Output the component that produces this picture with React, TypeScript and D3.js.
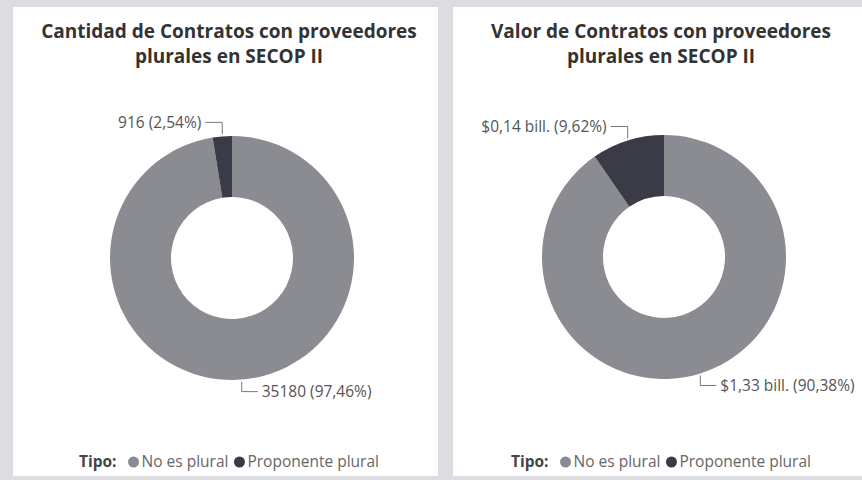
import { useEffect, useRef } from "react";
import * as d3 from "d3";

// data
const tipos = ["No es plural", "Proponente plural"];
const cantidadValues = [35180, 916];
const cantidadPct = [97.46, 2.54];
const valorBill = [1.33, 0.14];
const valorPct = [90.38, 9.62];
const titles = [
  ["Cantidad de Contratos con proveedores", "plurales en SECOP II"],
  ["Valor de Contratos con proveedores", "plurales en SECOP II"],
];

const fmtPct = (p: number) => p.toFixed(2).replace(".", ",") + "%";
const fmtBill = (v: number) => "$" + v.toFixed(2).replace(".", ",") + " bill.";

export default function App() {
  const svgRef = useRef<SVGSVGElement>(null);

  useEffect(() => {
    const W = 862, H = 480;
    const svg = d3.select(svgRef.current);
    svg.selectAll("*").remove();
    svg.attr("width", W).attr("height", H);

    const color = d3.scaleOrdinal<string, string>().domain(tipos).range(["#8b8b92", "#3b3b47"]);

    // scan frame
    svg.append("rect").attr("width", W).attr("height", H).attr("fill", "#dcdce1");

    const panels = [
      { x0: 13, x1: 438, cx: 232, cy: 258, values: cantidadPct,
        labels: cantidadValues.map((v, i) => `${v} (${fmtPct(cantidadPct[i])})`) },
      { x0: 453, x1: 870, cx: 664, cy: 257, values: valorPct,
        labels: valorBill.map((v, i) => `${fmtBill(v)} (${fmtPct(valorPct[i])})`) },
    ];

    const outerR = 122, innerR = 61;
    const pie = d3.pie<number>().sort(null).value(d => d);
    const arc = d3.arc<d3.PieArcDatum<number>>().innerRadius(innerR).outerRadius(outerR);

    panels.forEach((p, pi) => {
      const g = svg.append("g");
      g.append("rect")
        .attr("x", p.x0).attr("y", 7)
        .attr("width", p.x1 - p.x0).attr("height", 469)
        .attr("fill", "#ffffff");

      const tcx = p.cx - 3;
      titles[pi].forEach((t, li) => {
        g.append("text")
          .attr("x", tcx).attr("y", 38 + li * 25)
          .attr("text-anchor", "middle")
          .style("font-family", "'Open Sans', sans-serif")
          .style("font-weight", "700")
          .style("font-size", "19px")
          .attr("fill", "#333333")
          .text(t);
      });

      const arcs = pie(p.values);
      const donut = g.append("g").attr("transform", `translate(${p.cx},${p.cy})`);
      donut.selectAll("path")
        .data(arcs)
        .join("path")
        .attr("d", arc)
        .attr("fill", (d, i) => color(tipos[i]));

      // data labels with elbow leader lines
      arcs.forEach((a, i) => {
        const mid = (a.startAngle + a.endAngle) / 2;
        const px = p.cx + outerR * Math.sin(mid);
        const py = p.cy - outerR * Math.cos(mid);
        const top = Math.cos(mid) > 0;
        const ly = top ? py - 14 : py + 12;
        const hx = top ? px - 17 : px + 16;
        g.append("path")
          .attr("d", `M${px},${py + (top ? -2 : 2)}V${ly}H${hx}`)
          .attr("fill", "none")
          .attr("stroke", "#777")
          .attr("stroke-width", 1);
        g.append("text")
          .attr("x", top ? hx - 4 : hx + 4)
          .attr("y", ly)
          .attr("dy", "0.35em")
          .attr("text-anchor", top ? "end" : "start")
          .style("font-family", "'Open Sans', sans-serif")
          .style("font-size", "15.5px")
          .attr("fill", "#555555")
          .text(p.labels[i]);
      });

      // legend
      const leg = g.append("g");
      const ly = 462;
      let x = 0;
      const lt = leg.append("text")
        .attr("x", x).attr("y", ly).attr("dy", "0.35em")
        .style("font-family", "'Open Sans', sans-serif")
        .style("font-weight", "700")
        .style("font-size", "15.5px")
        .attr("fill", "#444")
        .text("Tipo:");
      x += (lt.node() as SVGTextElement).getComputedTextLength() + 12;
      tipos.forEach(t => {
        leg.append("circle").attr("cx", x + 5).attr("cy", ly).attr("r", 5.5).attr("fill", color(t));
        x += 13;
        const tt = leg.append("text")
          .attr("x", x).attr("y", ly).attr("dy", "0.35em")
          .style("font-family", "'Open Sans', sans-serif")
          .style("font-size", "15.5px")
          .attr("fill", "#666")
          .text(t);
        x += (tt.node() as SVGTextElement).getComputedTextLength() + 6;
      });
      leg.attr("transform", `translate(${tcx - (x - 6) / 2},0)`);
    });
  }, []);

  return <svg ref={svgRef} style={{ position: "absolute", left: 0, top: 0 }} />;
}
